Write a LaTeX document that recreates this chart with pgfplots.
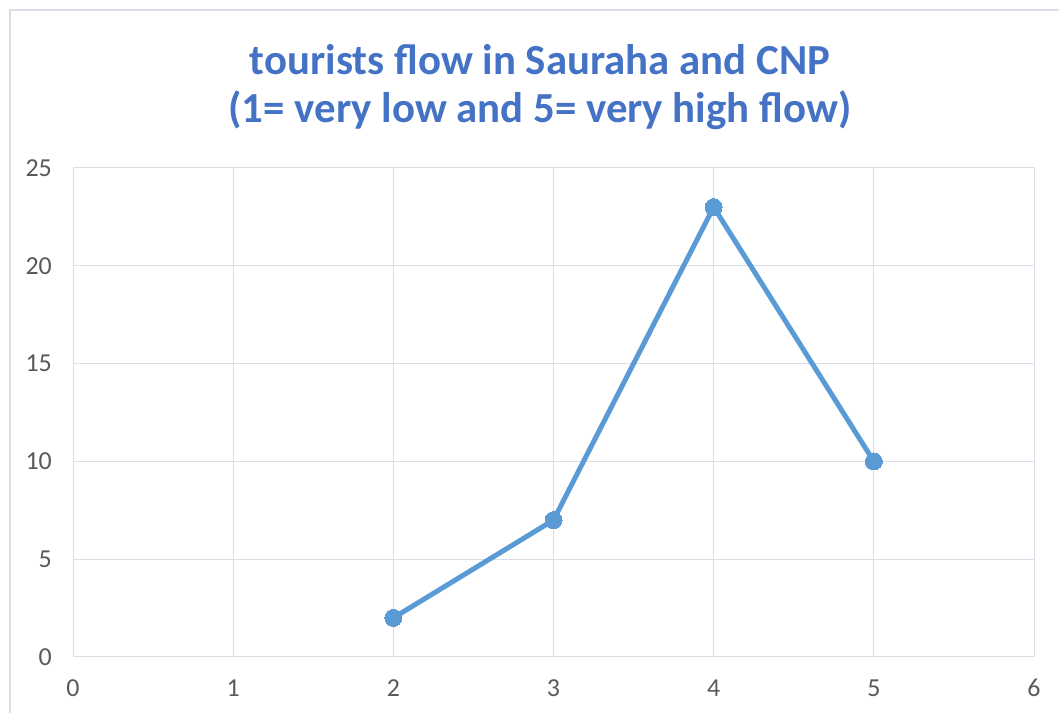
\documentclass[border=0pt]{standalone}
\usepackage{pgfplots}
\pgfplotsset{compat=1.18}
\usepackage{fontspec}
\setmainfont{Carlito}
\definecolor{titleblue}{HTML}{4472C4}
\definecolor{lineblue}{HTML}{5B9BD5}
\definecolor{gridc}{HTML}{D9DEE8}
\definecolor{tickc}{HTML}{595959}
\begin{document}
\begin{tikzpicture}[x=1bp,y=1bp]
\useasboundingbox (0,0) rectangle (1059,713);
\draw[gridc, line width=2bp] (9.5,-10) -- (9.5,703) -- (1070,703);
\node[text=titleblue, font=\fontsize{43}{48}\selectfont\bfseries, align=center] at (540,626) {tourists flow in Sauraha and CNP\\(1= very low and 5= very high flow)};
\begin{axis}[
  at={(73bp,56bp)}, anchor=south west,
  scale only axis, width=961bp, height=489bp,
  xmin=0, xmax=6, ymin=0, ymax=25,
  xtick={0,1,2,3,4,5,6}, ytick={0,5,10,15,20,25},
  grid=major, major grid style={gridc, line width=1bp},
  axis line style={gridc, line width=1bp},
  major tick length=0pt,
  tick label style={font=\fontsize{26}{28}\selectfont, text=tickc},
  /pgf/number format/assume math mode=true,
  xticklabel style={anchor=center, inner sep=0pt, yshift=-31bp},
  yticklabel style={anchor=east, inner sep=0pt, xshift=-21bp},
]
\addplot[lineblue, line width=5bp, mark=*, mark size=8.5bp, mark options={fill=lineblue, draw=lineblue, line width=0pt}] coordinates {(2,2) (3,7) (4,23) (5,10)};
\end{axis}
\end{tikzpicture}
\end{document}
